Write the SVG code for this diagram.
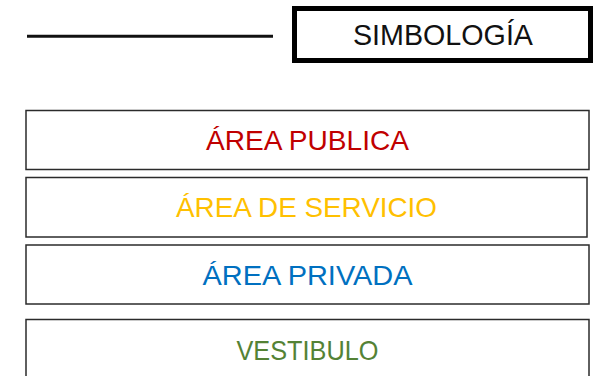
<svg xmlns="http://www.w3.org/2000/svg" width="605" height="376" viewBox="0 0 605 376">
<style>
  .box { fill: #ffffff; stroke: #2b2b2b; stroke-width: 1.5; }
  .lbl { font-family: "Liberation Sans", Arial, sans-serif; font-size: 28px; text-anchor: middle; }
</style>
<rect x="0" y="0" width="605" height="376" fill="#ffffff"/>
<g id="connectors">
  <line x1="27" y1="36.2" x2="273" y2="36.2" stroke="#111111" stroke-width="3"/>
</g>
<g id="title">
  <rect x="294.5" y="8.5" width="296" height="52" fill="#ffffff" stroke="#000000" stroke-width="5"/>
  <text x="443" y="45" font-family="Liberation Sans, Arial, sans-serif" font-size="30" text-anchor="middle" fill="#111111" textLength="180" lengthAdjust="spacingAndGlyphs">SIMBOLOGÍA</text>
</g>
<g id="area-publica">
  <rect class="box" x="26" y="110.5" width="563" height="59"/>
  <text class="lbl" x="307.5" y="150" fill="#C00000" textLength="203" lengthAdjust="spacingAndGlyphs">ÁREA PUBLICA</text>
</g>
<g id="area-servicio">
  <rect class="box" x="26" y="177.5" width="561" height="59.5"/>
  <text class="lbl" x="306.5" y="216.5" fill="#FFC000" textLength="261" lengthAdjust="spacingAndGlyphs">ÁREA DE SERVICIO</text>
</g>
<g id="area-privada">
  <rect class="box" x="26" y="245" width="563" height="59"/>
  <text class="lbl" x="307.5" y="285" fill="#0070C0" textLength="210" lengthAdjust="spacingAndGlyphs">ÁREA PRIVADA</text>
</g>
<g id="vestibulo">
  <rect class="box" x="26" y="319.5" width="563" height="70"/>
  <text class="lbl" x="307.5" y="360" fill="#548235" textLength="142" lengthAdjust="spacingAndGlyphs">VESTIBULO</text>
</g>
</svg>
